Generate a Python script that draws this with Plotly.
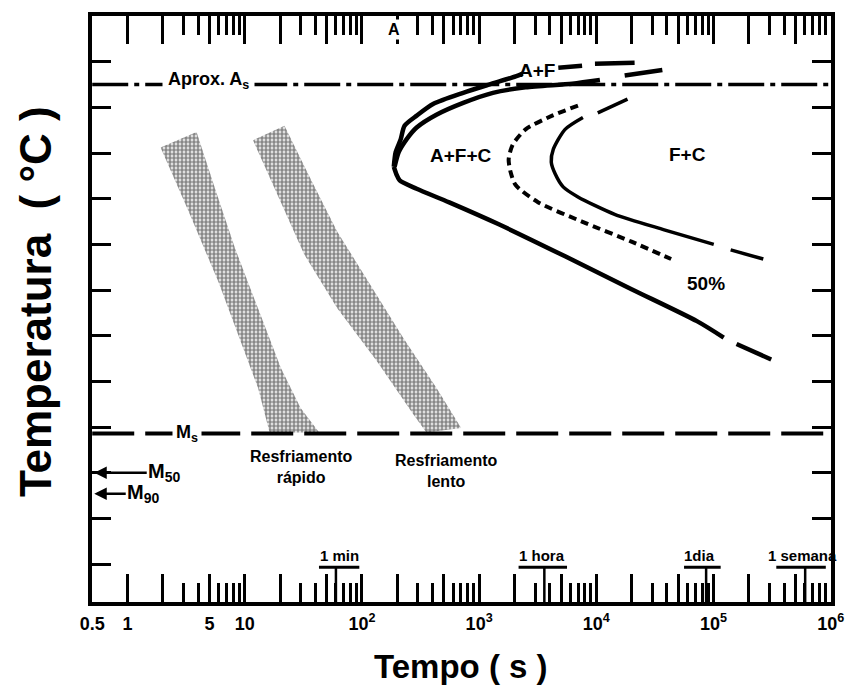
import numpy as np
import plotly.graph_objects as go

# ---------------- data ----------------
# axes (time in s, log scale; temperature axis carries no labels in the original)
time_range = [0.5, 1.0e6]
temp_range = [208.5, 850.1]
temp_ticks = [250, 300, 350, 400, 450, 500, 550, 600, 650, 700, 750, 800]
temp_ticks_right = [300, 350, 400, 450, 500, 550, 600, 650, 700, 750, 800]

time_label_vals = [0.5, 1, 5, 10, 1e2, 1e3, 1e4, 1e5, 1e6]
time_label_text = ["0.5", "1", "5", "10", "10<sup>2</sup>", "10<sup>3</sup>",
                   "10<sup>4</sup>", "10<sup>5</sup>", "10<sup>6</sup>"]
major_mantissas = [1, 2, 5]
minor_mantissas = [3, 4, 6, 7, 8, 9]
decades = [1, 10, 1e2, 1e3, 1e4, 1e5]

# horizontal reference temperatures
T_As = 775
T_Ms = 393
T_M50 = 350
T_M90 = 327

# ferrite start, upper branch (top -> nose)
fs_t = [2350, 2051, 1213, 731, 408, 293, 231, 214, 194, 187]
fs_T = [787, 784, 775, 766, 754, 741, 730, 715, 701, 685]
fs_ext1_t = [4736, 7555]
fs_ext1_T = [793.5, 795.6]
fs_ext2_t = [9731, 21201]
fs_ext2_T = [797.8, 798.9]
# pearlite start, upper branch (nose -> top)
ps_t = [190, 206, 240, 293, 432, 731, 1311, 2491, 6219, 10725]
ps_T = [685, 701, 715, 728, 742, 755, 766, 772, 776, 780]
ps_ext_t = [17448, 36560]
ps_ext_T = [785, 791]
# start curve, lower branch (nose -> low temperature)
lo_t = [187, 198, 210, 293, 556, 1471, 5416, 19960, 72100, 122100]
lo_T = [685, 676, 670, 661, 646, 622, 587, 551, 516, 498]
lo_ext_t = [157100, 310400]
lo_ext_T = [491, 474]
# 50 % curve (dotted)
h50_t = [6970, 4203, 2491, 1931, 1786, 1857, 2048, 3201, 7536, 19950, 43450]
h50_T = [752, 741, 726, 709, 693, 679, 665, 646, 625, 603, 584]
# finish curve
fin_t = [7680, 5412, 4290, 4125, 4460, 5210, 6970, 14320, 37930, 100400]
fin_T = [739, 726, 704, 690, 677, 663, 652, 633, 616, 600]
fin_top_t = [10280, 18450]
fin_top_T = [744, 759]
fin_end_t = [139900, 265600]
fin_end_T = [594, 584]

# cooling bands (outline: left edge top->bottom, right edge bottom->top)
rapid_t = [1.915, 3.323, 5.958, 8.796, 12.98, 16.30, 43.13, 29.97, 20.31, 12.98, 8.250, 5.588, 3.883]
rapid_T = [706, 636, 559, 502, 443, 394, 394, 421, 465, 530, 596, 661, 723]
slow_t = [11.78, 19.16, 32.21, 61.59, 134.2, 274.1, 355.0, 702.0, 431.4, 226.9, 117.1, 61.59, 36.41, 21.83]
slow_T = [714, 654, 589, 530, 472, 414, 394, 399, 443, 497, 556, 614, 672, 730]

# time markers
marker_t = [60, 3600, 86400, 604800]
marker_names = ["1 min", "1 hora", "1dia", "1 semana"]
bar_lo = [43, 2170, 56000, 343000]
bar_hi = [95, 5620, 115000, 907000]
label_t = [64, 3460, 76400, 578000]
T_bar = 246.6
T_marker_label = 259.7

# text labels
region_text = ["A+F+C", "F+C", "50%", "A+F"]
region_t = [702, 59350, 85900, 3141]
region_T = [697.6, 698.7, 557.1, 790.2]
cool_text = ["Resfriamento<br>rápido", "Resfriamento<br>lento"]
cool_t = [30.0, 524]
cool_T = [356.7, 352.3]
top_A_t = 187
top_A_T = 835

FONT = "Liberation Sans Narrow, Arial Narrow, Liberation Sans, Arial, sans-serif"

# ---------------- figure ----------------
fig = go.Figure()

pattern = dict(shape='.', fgcolor='#111111', bgcolor='white', size=4, solidity=0.7)
for bt, bT in [(rapid_t, rapid_T), (slow_t, slow_T)]:
    fig.add_trace(go.Scatter(x=bt, y=bT, mode='lines', fill='toself', fillcolor='white',
                             fillpattern=pattern, line=dict(width=0, color='white'),
                             hoverinfo='skip', showlegend=False))

# A_s and M_s lines
fig.add_trace(go.Scatter(x=time_range, y=[T_As, T_As], mode='lines',
                         line=dict(color='black', width=3.5, dash='36px,6px,5px,6px'),
                         hoverinfo='skip', showlegend=False))
fig.add_trace(go.Scatter(x=time_range, y=[T_Ms, T_Ms], mode='lines',
                         line=dict(color='black', width=4, dash='42px,11px'),
                         hoverinfo='skip', showlegend=False))


def add_curve(t, T, width, dash='solid'):
    fig.add_trace(go.Scatter(x=t, y=T, mode='lines',
                             line=dict(color='black', width=width, dash=dash, shape='spline', smoothing=0.7),
                             hoverinfo='skip', showlegend=False))


add_curve(fs_t, fs_T, 4.5)
add_curve(fs_ext1_t, fs_ext1_T, 4.5)
add_curve(fs_ext2_t, fs_ext2_T, 4.5)
add_curve(ps_t, ps_T, 4.5)
add_curve(ps_ext_t, ps_ext_T, 4.5)
add_curve(lo_t, lo_T, 4.5)
add_curve(lo_ext_t, lo_ext_T, 4.5)
add_curve(h50_t, h50_T, 4, dash='8px,5px')
add_curve(fin_t, fin_T, 3.5)
add_curve(fin_top_t, fin_top_T, 3.5)
add_curve(fin_end_t, fin_end_T, 3.5)

# time markers (vertical ticks + horizontal bars)
vx, vy, bx, by = [], [], [], []
for t in marker_t:
    vx += [t, t, None]
    vy += [temp_range[0], T_bar, None]
for lo, hi in zip(bar_lo, bar_hi):
    bx += [lo, hi, None]
    by += [T_bar, T_bar, None]
fig.add_trace(go.Scatter(x=vx, y=vy, mode='lines', line=dict(color='black', width=2.5),
                         hoverinfo='skip', showlegend=False))
fig.add_trace(go.Scatter(x=bx, y=by, mode='lines', line=dict(color='black', width=3),
                         hoverinfo='skip', showlegend=False))

# dummy traces so the mirrored axes exist
fig.add_trace(go.Scatter(x=[1], y=[500], xaxis='x2', yaxis='y', mode='markers',
                         marker=dict(opacity=0), hoverinfo='skip', showlegend=False))
fig.add_trace(go.Scatter(x=[1], y=[500], xaxis='x', yaxis='y2', mode='markers',
                         marker=dict(opacity=0), hoverinfo='skip', showlegend=False))

# tick values
major_vals = sorted(set([m * d for d in decades for m in major_mantissas] + [1e6] + time_label_vals))
minor_vals = [m * d for d in decades for m in minor_mantissas]
label_map = dict(zip(time_label_vals, time_label_text))
major_text = [label_map.get(v, "") for v in major_vals]

xr = [np.log10(time_range[0]) - 0.002, np.log10(time_range[1]) + 0.002]
tickfont = dict(family=FONT, size=18, color='black', weight='bold')

common_x = dict(type='log', range=xr, showgrid=False, zeroline=False,
                ticks='inside', ticklen=28, tickwidth=2.5, tickcolor='black',
                tickmode='array', tickvals=major_vals,
                minor=dict(ticks='inside', ticklen=19, tickwidth=2.5, tickcolor='black',
                           tickmode='array', tickvals=minor_vals, showgrid=False))

fig.update_layout(
    width=856, height=698,
    margin=dict(l=92, r=18, t=13, b=96),
    paper_bgcolor='white', plot_bgcolor='white', showlegend=False,
    xaxis=dict(**common_x, ticktext=major_text, tickfont=tickfont, ticklabelstandoff=2,
               showline=True, linecolor='black', linewidth=4, mirror=True),
    xaxis2=dict(**common_x, overlaying='x', side='top', showticklabels=False, showline=False),
    yaxis=dict(range=temp_range, showgrid=False, zeroline=False, showline=True, linecolor='black',
               linewidth=4, mirror=True, ticks='inside', ticklen=19, tickwidth=3, tickcolor='black',
               tickmode='array', tickvals=temp_ticks, showticklabels=False),
    yaxis2=dict(range=temp_range, overlaying='y', side='right', showgrid=False, zeroline=False,
                showline=False, ticks='inside', ticklen=19, tickwidth=3, tickcolor='black',
                tickmode='array', tickvals=temp_ticks_right, showticklabels=False),
)

ann = []
lab_font = dict(family=FONT, size=19, color='black', weight='bold')
for txt, t, T in zip(region_text, region_t, region_T):
    ann.append(dict(x=np.log10(t), y=T, xref='x', yref='y', text=txt, showarrow=False, font=lab_font))
for txt, t, T in zip(cool_text, cool_t, cool_T):
    ann.append(dict(x=np.log10(t), y=T, xref='x', yref='y', text=txt, showarrow=False,
                    font=dict(family=FONT, size=16, color='black', weight='bold')))
for txt, t in zip(marker_names, label_t):
    ann.append(dict(x=np.log10(t), y=T_marker_label, xref='x', yref='y', text=txt, showarrow=False,
                    font=dict(family=FONT, size=15, color='black', weight='bold')))
ann.append(dict(x=np.log10(4.9), y=780, xref='x', yref='y', text='Aprox. A<sub>s</sub>', showarrow=False,
                bgcolor='white', borderpad=5, font=dict(family=FONT, size=18, color='black', weight='bold')))
ann.append(dict(x=np.log10(3.2), y=T_Ms, xref='x', yref='y', text='M<sub>s</sub>', showarrow=False,
                bgcolor='white', borderpad=3, font=dict(family=FONT, size=18, color='black', weight='bold')))
ann.append(dict(x=np.log10(top_A_t), y=top_A_T, xref='x', yref='y', text='A', showarrow=False,
                bgcolor='white', borderpad=1, font=dict(family=FONT, size=16, color='black', weight='bold')))
ann.append(dict(x=np.log10(time_range[0]), y=T_M50, xref='x', yref='y', text='M<sub>50</sub>',
                showarrow=True, arrowhead=2, arrowsize=1, arrowwidth=2.5, arrowcolor='black',
                ax=72, ay=0, standoff=2, font=dict(family=FONT, size=20, color='black', weight='bold')))
ann.append(dict(x=np.log10(time_range[0]), y=T_M90, xref='x', yref='y', text='M<sub>90</sub>',
                showarrow=True, arrowhead=2, arrowsize=1, arrowwidth=2.5, arrowcolor='black',
                ax=51, ay=0, standoff=2, font=dict(family=FONT, size=20, color='black', weight='bold')))
# axis titles
ann.append(dict(x=-0.0764, y=0.5127, xref='paper', yref='paper', xanchor='center', yanchor='middle',
                text='Temperatura  ( °C )', textangle=-90, showarrow=False,
                font=dict(family=FONT, size=44, color='black', weight='bold')))
ann.append(dict(x=0.4987, y=-0.1104, xref='paper', yref='paper', xanchor='center', yanchor='middle',
                text='Tempo ( s )', showarrow=False,
                font=dict(family=FONT, size=33, color='black', weight='bold')))
fig.update_layout(annotations=ann)

fig.write_html("out.html", config={'displayModeBar': False},
               post_script="document.body.style.margin='0';document.body.style.overflow='hidden';")
